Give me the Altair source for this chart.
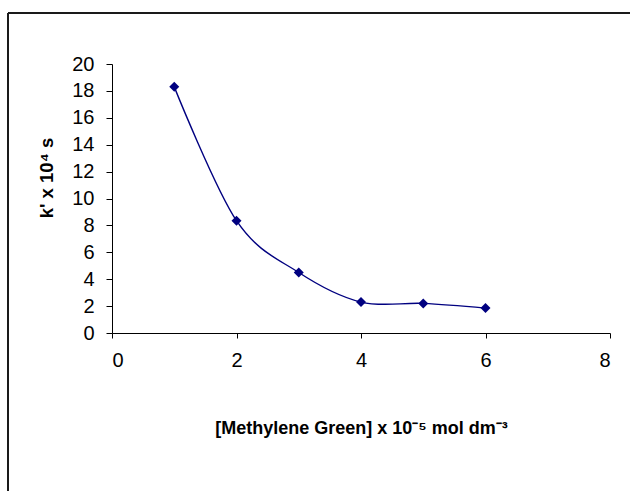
import altair as alt
import pandas as pd

conc = [1, 2, 3, 4, 5, 6]
k_vals = [18.3, 8.35, 4.5, 2.3, 2.2, 1.85]
x_ticks = [0, 2, 4, 6, 8]
y_ticks = [0, 2, 4, 6, 8, 10, 12, 14, 16, 18, 20]

df = pd.DataFrame({"conc": conc, "k": k_vals})

W, H = 498, 269
FONT = "Liberation Sans"
NAVY = "#000080"

x_enc = alt.X(
    "conc:Q",
    scale=alt.Scale(domain=[0, 8], nice=False, zero=False),
    axis=alt.Axis(
        values=x_ticks, format="d", labelOverlap=False,
        title="[Methylene Green] x 10⁻⁵ mol dm⁻³",
        titleFont=FONT, titleFontSize=18, titleFontWeight="bold", titleColor="black",
        titleBaseline="alphabetic", titleY=100, titleX=W / 2,
        labelFont=FONT, labelFontSize=20, labelColor="black", labelPadding=12,
        tickSize=5, tickColor="black", domainColor="black", grid=False,
    ),
)
y_enc = alt.Y(
    "k:Q",
    scale=alt.Scale(domain=[0, 20], nice=False),
    axis=alt.Axis(
        values=y_ticks, format="d", labelOverlap=False, tickCount=11,
        title="k' x 10⁴ s",
        titleFont=FONT, titleFontSize=18.5, titleFontWeight="bold", titleColor="black",
        titleAngle=270, titleBaseline="alphabetic", titleAlign="center",
        titleX=-60, titleY=113.5,
        labelFont=FONT, labelFontSize=20, labelColor="black", labelPadding=12,
        tickSize=6, tickColor="black", domainColor="black", grid=False,
    ),
)

base = alt.Chart(df).encode(x=x_enc, y=y_enc)
line = base.mark_line(color=NAVY, strokeWidth=1.4, interpolate="cardinal")
pts = base.mark_point(shape="diamond", filled=True, color=NAVY, size=100, opacity=1)

one = pd.DataFrame({"d": [0]})
border_top = alt.Chart(one).mark_rule(color="#1a1a1a", strokeWidth=2).encode(
    x=alt.value(-104), x2=alt.value(530), y=alt.value(-51)
)
border_left = alt.Chart(one).mark_rule(color="#1a1a1a", strokeWidth=2).encode(
    x=alt.value(-104), y=alt.value(-51), y2=alt.value(440)
)

chart = alt.layer(line, pts, border_top, border_left).properties(
    width=W, height=H, background="white",
    autosize=alt.AutoSizeParams(type="none"),
    padding={"left": 112, "top": 64, "right": 20, "bottom": 158},
).configure_view(stroke="transparent")

chart.save("out.html", embed_options={"renderer": "svg", "actions": False})
